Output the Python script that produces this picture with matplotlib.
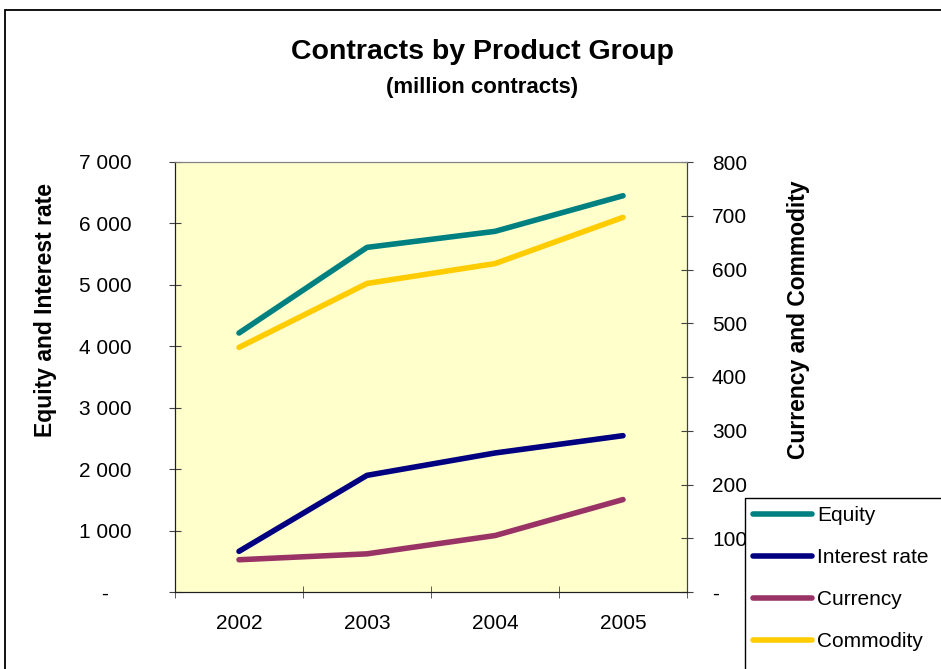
import matplotlib.pyplot as plt
from matplotlib.patches import Rectangle
from matplotlib.ticker import FuncFormatter

plt.rcParams["font.family"] = ["Liberation Sans", "DejaVu Sans"]

years = ["2002", "2003", "2004", "2005"]
equity = [4216, 5610, 5871, 6451]
interest_rate = [662, 1899, 2263, 2545]
currency = [60, 71, 105, 172]
commodity = [455, 574, 611, 697]

W, H = 941, 669
fig = plt.figure(figsize=(W / 100, H / 100), dpi=100)

# outer chart border
fig.patches.append(Rectangle((5 / W, -0.05), 1.1, 1 - 10 / H + 0.05,
                             transform=fig.transFigure, fill=False,
                             edgecolor="black", linewidth=1.3))

ax = fig.add_axes([175 / W, 1 - 592 / H, (687 - 175) / W, (592 - 162) / H])
ax.set_facecolor("#FFFFCC")
ax2 = ax.twinx()

x = range(len(years))
l1, = ax.plot(x, equity, color="#008080", lw=4, solid_capstyle="round", label="Equity")
l2, = ax.plot(x, interest_rate, color="#000080", lw=4, solid_capstyle="round", label="Interest rate")
l3, = ax2.plot(x, currency, color="#993366", lw=4, solid_capstyle="round", label="Currency")
l4, = ax2.plot(x, commodity, color="#FFCC00", lw=4, solid_capstyle="round", label="Commodity")

ax.set_xlim(-0.5, 3.5)
ax.set_ylim(0, 7000)
ax2.set_ylim(0, 800)
ax.set_yticks(range(0, 7001, 1000))
ax2.set_yticks(range(0, 801, 100))


def left_fmt(v, pos):
    if v == 0:
        return "-    "
    return f"{int(v):,}".replace(",", " ")


ax.yaxis.set_major_formatter(FuncFormatter(left_fmt))
ax2.yaxis.set_major_formatter(FuncFormatter(lambda v, p: "-" if v == 0 else f"{int(v)}"))

ax.set_xticks(list(x))
ax.set_xticklabels(years)
ax.set_xticks([-0.5, 0.5, 1.5, 2.5, 3.5], minor=True)
ax.tick_params(axis="x", which="major", length=0, pad=16, labelsize=15)
ax.tick_params(axis="x", which="minor", direction="inout", length=8, color="#404040")
ax.tick_params(axis="y", direction="inout", length=8, pad=27, labelsize=15, color="#404040")
ax2.tick_params(axis="y", direction="inout", length=8, pad=14, labelsize=15, color="#404040")

for a in (ax, ax2):
    a.spines["top"].set_color("#808080")
    a.spines["left"].set_color("#202020")
    a.spines["bottom"].set_color("#202020")
    a.spines["right"].set_color("#404040")

fig.text(482 / W, 1 - 52 / H, "Contracts by Product Group", ha="center", va="center",
         fontsize=20.5, fontweight="bold")
fig.text(482 / W, 1 - 87 / H, "(million contracts)", ha="center", va="center",
         fontsize=16, fontweight="bold")
fig.text(46 / W, 1 - 310 / H, "Equity and Interest rate", rotation=90, ha="center",
         va="center", fontsize=16.5, fontweight="bold")
fig.text(799 / W, 1 - 320 / H, "Currency and Commodity", rotation=90, ha="center",
         va="center", fontsize=16.5, fontweight="bold")

# legend box runs off the right and bottom edges
fig.patches.append(Rectangle((745 / W, -0.05), 1.0, 1 - 498 / H + 0.05,
                             transform=fig.transFigure, facecolor="white",
                             edgecolor="black", linewidth=1.0, zorder=5))
leg = fig.legend(handles=[l1, l2, l3, l4], loc="upper left",
                 bbox_to_anchor=(745 / W, 1 - 498 / H), bbox_transform=fig.transFigure,
                 borderaxespad=0, fontsize=15, handlelength=2.8, handletextpad=0.25,
                 labelspacing=1.1, borderpad=0.4, frameon=False)
leg.set_zorder(6)

fig.savefig("out.png", dpi=100)
